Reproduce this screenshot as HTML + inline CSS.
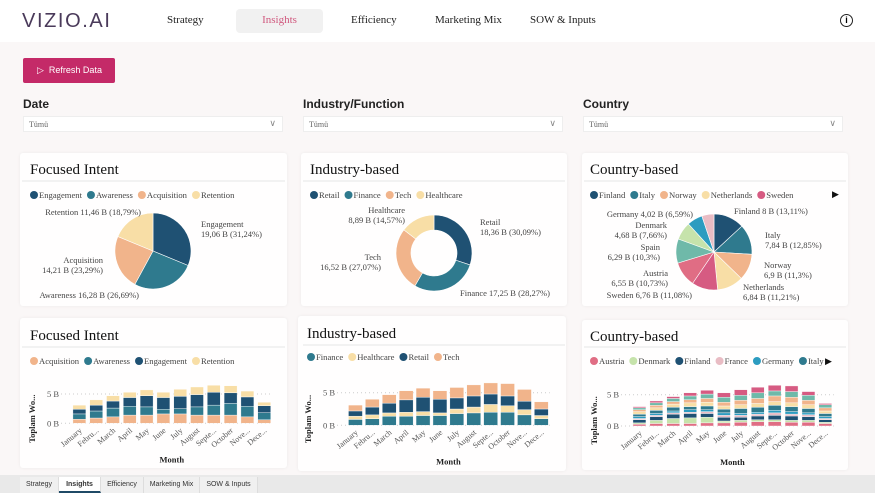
<!DOCTYPE html>
<html><head><meta charset="utf-8">
<style>
*{margin:0;padding:0;box-sizing:border-box}
body{width:875px;height:493px;overflow:hidden;background:#faf7f7;font-family:"Liberation Serif",serif;position:relative}
.abs{position:absolute}
.nav{left:0;top:0;width:875px;height:42px;background:#fff}
.navi{top:14px;font-size:11px;color:#222}
.card{background:rgba(255,255,255,0.85);border-radius:3px;box-shadow:0 0 3px rgba(0,0,0,0.06)}
.lbl{font-family:"Liberation Sans",sans-serif;font-size:12px;color:#222;font-weight:bold}
.dd{height:16px;background:#fff;border:1px solid #eee;font-size:8px;color:#666;padding:3px 0 0 5px}
.dd span{position:absolute;right:6px;top:1px;font-size:9px;color:#888}
.tab{top:477px;height:16px;font-family:"Liberation Sans",sans-serif;font-size:7px;color:#333;text-align:center;padding-top:4px;background:#f0f0f0;border-right:1px solid #ddd}
</style></head><body>
<div class="abs nav"></div>
<div class="abs" style="left:22px;top:10px;font-family:'Liberation Sans',sans-serif;font-size:20px;letter-spacing:1.6px;color:#4a3a5a;font-weight:300">VIZIO.AI</div>
<div class="abs navi" style="left:167px">Strategy</div>
<div class="abs" style="left:236px;top:9px;width:87px;height:24px;background:#f1f1f1;border-radius:4px;color:#d0587e;font-size:11px;text-align:center;padding-top:5px">Insights</div>
<div class="abs navi" style="left:351px">Efficiency</div>
<div class="abs navi" style="left:435px">Marketing Mix</div>
<div class="abs navi" style="left:530px">SOW &amp; Inputs</div>
<div class="abs" style="left:840px;top:14px;width:13px;height:13px;border:1.3px solid #222;border-radius:50%;font-size:9px;text-align:center;line-height:11px;font-weight:bold;font-family:'Liberation Sans',sans-serif">i</div>
<div class="abs" style="left:23px;top:58px;width:92px;height:25px;background:#c42a68;border-radius:2px;color:#fff;font-family:'Liberation Sans',sans-serif;font-size:9px;padding:7px 0 0 14px">▷&nbsp; Refresh Data</div>
<div class="abs lbl" style="left:23px;top:97px">Date</div>
<div class="abs lbl" style="left:303px;top:97px">Industry/Function</div>
<div class="abs lbl" style="left:583px;top:97px">Country</div>
<div class="abs dd" style="left:23px;top:116px;width:260px">Tümü<span>∨</span></div>
<div class="abs dd" style="left:303px;top:116px;width:260px">Tümü<span>∨</span></div>
<div class="abs dd" style="left:583px;top:116px;width:260px">Tümü<span>∨</span></div>
<div class="abs card" style="left:20px;top:153px;width:267px;height:153px"></div>
<div class="abs card" style="left:301px;top:153px;width:266px;height:153px"></div>
<div class="abs card" style="left:582px;top:153px;width:266px;height:153px"></div>
<div class="abs card" style="left:20px;top:318px;width:267px;height:150px"></div>
<div class="abs card" style="left:298px;top:316px;width:268px;height:155px"></div>
<div class="abs card" style="left:582px;top:320px;width:266px;height:150px"></div>
<svg id="s" class="abs" style="left:0;top:0" width="875" height="493"></svg>
<div class="abs" style="left:0;top:475px;width:875px;height:18px;background:#e9e9e9"></div>
<div class="abs tab" style="left:20px;width:39px">Strategy</div>
<div class="abs tab" style="left:59px;width:42px;background:#fff;font-weight:bold;border-bottom:2px solid #1f4a66">Insights</div>
<div class="abs tab" style="left:101px;width:43px">Efficiency</div>
<div class="abs tab" style="left:144px;width:56px">Marketing Mix</div>
<div class="abs tab" style="left:200px;width:58px">SOW &amp; Inputs</div>
<script>
const months=["January","Febru...","March","April","May","June","July","August","Septe...","October","Nove...","Dece..."];
const focusCats=["Engagement","Awareness","Acquisition","Retention"];
const focusPie=[19.06,16.28,14.21,11.46];
const indCats=["Retail","Finance","Tech","Healthcare"];
const indPie=[18.36,17.25,16.52,8.89];
const ctyCats=["Finland","Italy","Norway","Netherlands","Sweden","Austria","Spain","Denmark","Germany","France"];
const ctyPie=[8.0,7.84,6.9,6.84,6.76,6.55,6.29,4.68,4.02,3.16];
const fAcq=[0.7,0.9,1.1,1.4,1.4,1.6,1.6,1.4,1.4,1.4,1.1,0.6];
const fAwa=[0.9,1.2,1.5,1.5,1.4,0.8,0.9,1.4,1.7,2.0,1.8,1.2];
const fEng=[0.8,1.0,1.2,1.5,1.9,2.0,2.1,2.1,2.2,1.8,1.6,1.2];
const fRet=[0.7,0.9,0.9,0.9,1.0,0.9,1.2,1.3,1.2,1.2,1.0,0.6];
const iFin=[0.9,1.0,1.4,1.4,1.5,1.5,1.8,1.9,2.0,2.0,1.6,1.0];
const iHea=[0.5,0.6,0.5,0.6,0.6,0.4,0.7,0.9,1.2,1.0,0.8,0.5];
const iRet=[0.8,1.2,1.5,1.9,2.2,2.1,1.7,1.7,1.6,1.5,1.3,1.0];
const iTec=[0.9,1.2,1.3,1.4,1.4,1.3,1.6,1.7,1.7,1.9,1.8,1.1];
const cAus=[0.3,0.4,0.4,0.4,0.5,0.5,0.6,0.7,0.7,0.6,0.6,0.4];
const cDen=[0.2,0.5,0.8,0.9,0.9,0.3,0.3,0.3,0.3,0.3,0.3,0.2];
const cFin=[0.5,0.6,0.7,0.7,0.6,0.6,0.5,0.6,0.7,0.7,0.6,0.4];
const cFra=[0.2,0.2,0.2,0.2,0.3,0.3,0.3,0.3,0.4,0.3,0.3,0.2];
const cGer=[0.3,0.3,0.3,0.4,0.3,0.4,0.3,0.3,0.4,0.4,0.3,0.3];
const cIta=[0.4,0.5,0.6,0.5,0.6,0.6,0.8,0.8,0.8,0.8,0.7,0.5];
const cNet=[0.4,0.4,0.5,0.6,0.6,0.5,0.6,0.6,0.6,0.6,0.6,0.4];
const cNor=[0.3,0.4,0.4,0.5,0.6,0.6,0.7,0.8,0.9,0.9,0.7,0.5];
const cSpa=[0.3,0.4,0.5,0.6,0.7,0.8,0.8,0.9,0.8,0.9,0.8,0.5];
const cSwe=[0.2,0.3,0.3,0.5,0.6,0.7,0.9,0.9,0.9,0.9,0.6,0.2];
const yTicks=[0,5];
const yTickLabels=["0 B","5 B"];

const C={Engagement:"#1f5173",Awareness:"#2f7a8e",Acquisition:"#f1b48b",Retention:"#f8dea6",
Retail:"#1f5173",Finance:"#2f7a8e",Tech:"#f1b48b",Healthcare:"#f8dea6",
Finland:"#1f5173",Italy:"#2f7a8e",Norway:"#f1b48b",Netherlands:"#f8dea6",Sweden:"#d65b82",Austria:"#e06d84",Spain:"#6fb9a9",Denmark:"#c6e3ab",Germany:"#2c9cc0",France:"#e9bcc4"};
const S=document.getElementById('s');const NS="http://www.w3.org/2000/svg";
function el(t,a,txt){const e=document.createElementNS(NS,t);for(const k in a)e.setAttribute(k,a[k]);if(txt!==undefined)e.textContent=txt;S.appendChild(e);return e;}
function title(x,y,t,n){const e=el('text',{x:x,y:y,'font-size':15,fill:'#111','font-family':'Liberation Serif'},t);}
function line(x1,x2,y){const e=el('line',{x1:x1,x2:x2,y1:y,y2:y,stroke:'#e6e6e6'});}
function legend(x,y,cats){let cx=x;cats.forEach(c=>{const d=el('circle',{cx:cx+4,cy:y-3,r:4,fill:C[c]});const t=el('text',{x:cx+9,y:y,'font-size':8.6,fill:'#444'},c);cx+=11+t.getComputedTextLength()+3;});}
function pie(cx,cy,r,ir,vals,cats,n){const tot=vals.reduce((a,b)=>a+b,0);let a0=-Math.PI/2;vals.forEach((v,i)=>{const a1=a0+v/tot*2*Math.PI;const big=a1-a0>Math.PI?1:0;const p=(a,rr)=>[cx+rr*Math.cos(a),cy+rr*Math.sin(a)];const [x0,y0]=p(a0,r),[x1,y1]=p(a1,r);let d;if(ir>0){const [x2,y2]=p(a1,ir),[x3,y3]=p(a0,ir);d=`M${x0},${y0}A${r},${r} 0 ${big} 1 ${x1},${y1}L${x2},${y2}A${ir},${ir} 0 ${big} 0 ${x3},${y3}Z`;}else d=`M${cx},${cy}L${x0},${y0}A${r},${r} 0 ${big} 1 ${x1},${y1}Z`;const e=el('path',{d:d,fill:C[cats[i]],stroke:'#fff','stroke-width':0.6});a0=a1;});}
function plab(x,y,lines,anchor){lines.forEach((l,i)=>{const t=el('text',{x:x,y:y+i*10,'font-size':8.5,fill:'#444','text-anchor':anchor||'start'},l);});}
title(30,174,"Focused Intent","focused-pie-title");line(22,285,181);legend(30,198,focusCats);
pie(153,251,38,0,focusPie,focusCats,"focused-pie");
plab(141,215,["Retention 11,46 B (18,79%)"],"end");plab(201,227,["Engagement","19,06 B (31,24%)"]);
plab(103,263,["Acquisition","14,21 B (23,29%)"],"end");plab(139,298,["Awareness 16,28 B (26,69%)"],"end");
title(310,174,"Industry-based","industry-pie-title");line(303,565,181);legend(310,198,indCats);
pie(434,253,38,23,indPie,indCats,"industry-pie");
plab(405,213,["Healthcare","8,89 B (14,57%)"],"end");plab(480,225,["Retail","18,36 B (30,09%)"]);
plab(381,260,["Tech","16,52 B (27,07%)"],"end");plab(460,296,["Finance 17,25 B (28,27%)"]);
title(590,174,"Country-based","country-pie-title");line(584,846,181);legend(590,198,ctyCats.slice(0,5));
el('text',{x:832,y:197,'font-size':9,fill:'#111'},"▶");
pie(714,252,38,0,ctyPie,ctyCats,"country-pie");
plab(734,214,["Finland 8 B (13,11%)"]);plab(765,238,["Italy","7,84 B (12,85%)"]);
plab(764,268,["Norway","6,9 B (11,3%)"]);plab(743,290,["Netherlands","6,84 B (11,21%)"]);
plab(693,217,["Germany 4,02 B (6,59%)"],"end");plab(667,228,["Denmark","4,68 B (7,66%)"],"end");
plab(660,250,["Spain","6,29 B (10,3%)"],"end");plab(668,276,["Austria","6,55 B (10,73%)"],"end");
plab(692,298,["Sweden 6,76 B (11,08%)"],"end");
function bars(x0,step,bw,y0,y5,series,cats,n,ytx){const sc=v=>y0-(y0-y5)*v/5;
yTicks.forEach((t,i)=>{const g=el('line',{x1:x0-10,x2:x0+step*12,y1:sc(t),y2:sc(t),stroke:'#ccc','stroke-dasharray':'1,3'});const tl=el('text',{x:x0-12,y:sc(t)+3,'font-size':8.5,fill:'#555','text-anchor':'end'},yTickLabels[i]);});
months.forEach((m,i)=>{const cx=x0+step*i+step/2;let acc=0;series.forEach((s,j)=>{const v=s[i];const r=el('rect',{x:cx-bw/2,y:sc(acc+v),width:bw,height:sc(acc)-sc(acc+v),fill:C[cats[j]],stroke:'#fff','stroke-width':0.4});acc+=v;});
const t=el('text',{x:cx+3,y:y0+8,'font-size':8,fill:'#555','text-anchor':'end',transform:`rotate(-40 ${cx+3} ${y0+8})`},m);});
const yt=el('text',{x:ytx,y:(y0+y5)/2+10,'font-size':8.5,fill:'#222','font-weight':'bold','text-anchor':'middle',transform:`rotate(-90 ${ytx} ${(y0+y5)/2+10})`},"Toplam Wo...");
const xt=el('text',{x:x0+step*6,y:y0+39,'font-size':8.5,fill:'#222','font-weight':'bold','text-anchor':'middle'},"Month");}
title(30,340,"Focused Intent","focused-bar-title");line(22,285,347);legend(30,364,["Acquisition","Awareness","Engagement","Retention"]);
bars(71,16.8,13,423.3,394,[fAcq,fAwa,fEng,fRet],["Acquisition","Awareness","Engagement","Retention"],"focused",35);
title(307,338,"Industry-based","industry-bar-title");line(303,565,345);legend(307,360,["Finance","Healthcare","Retail","Tech"]);
bars(347,16.9,14,425.3,392.7,[iFin,iHea,iRet,iTec],["Finance","Healthcare","Retail","Tech"],"industry",311);
title(590,341,"Country-based","country-bar-title");line(584,846,347);legend(590,364,["Austria","Denmark","Finland","France","Germany","Italy"]);
el('text',{x:825,y:364,'font-size':9,fill:'#111'},"▶");
bars(631,16.9,13,426,394.7,[cAus,cDen,cFin,cFra,cGer,cIta,cNet,cNor,cSpa,cSwe],["Austria","Denmark","Finland","France","Germany","Italy","Netherlands","Norway","Spain","Sweden"],"country",597);
</script>
</body></html>
